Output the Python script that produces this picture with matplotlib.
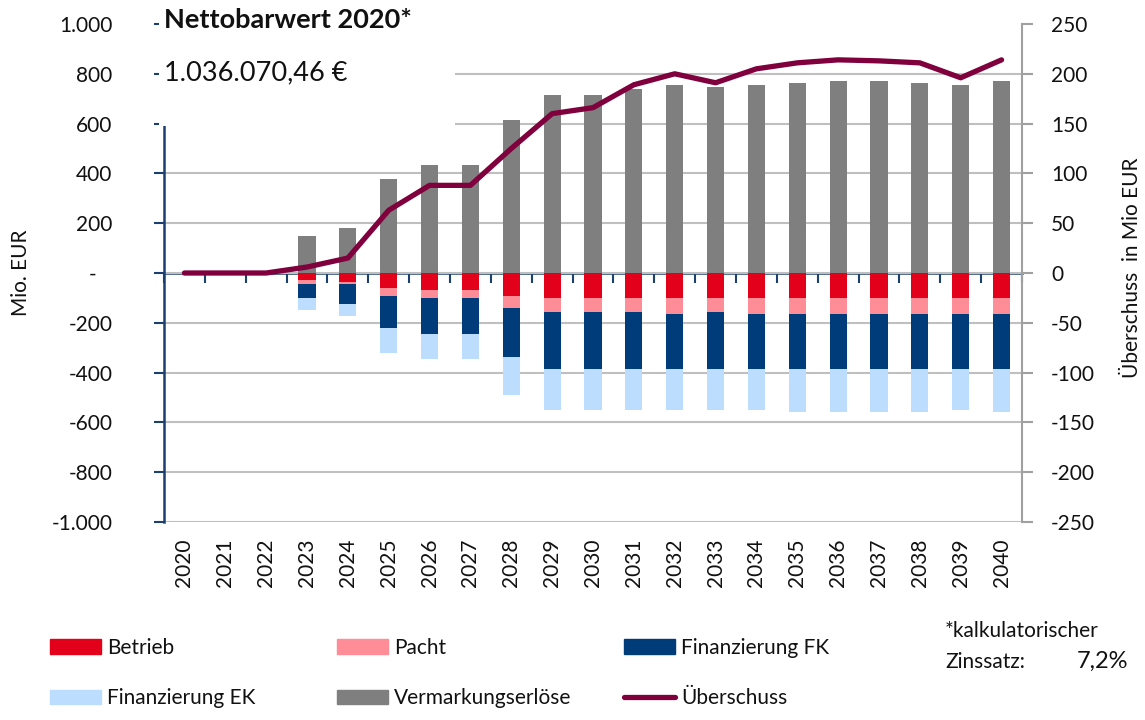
import matplotlib
matplotlib.use("Agg")
import matplotlib.pyplot as plt
import numpy as np
from matplotlib.patches import Rectangle, Patch
from matplotlib.lines import Line2D

plt.rcParams['font.family'] = ['Lato', 'DejaVu Sans']

years = [str(y) for y in range(2020, 2041)]
vermarktung = [0, 0, 0, 147, 179, 376, 432, 432, 613, 716, 716, 740, 756, 748, 756, 764, 772, 772, 764, 756, 772]
betrieb = [0, 0, 0, -27, -35, -59, -67, -67, -91, -99, -100, -100, -100, -100, -100, -100, -100, -100, -100, -100, -100]
pacht = [0, 0, 0, -17, -9, -33, -33, -33, -49, -56, -55, -55, -63, -55, -63, -63, -63, -63, -63, -63, -63]
fin_fk = [0, 0, 0, -55, -79, -127, -143, -143, -197, -229, -229, -229, -221, -229, -221, -221, -221, -221, -221, -221, -221]
fin_ek = [0, 0, 0, -48, -48, -102, -101, -101, -151, -167, -167, -167, -167, -167, -167, -175, -175, -175, -175, -167, -175]
ueberschuss = [0, 0, 0, 6, 15, 63, 88, 88, 125, 160, 166, 189, 200, 191, 205, 211, 214, 213, 211, 196, 214]

left_ticks = [-1000, -800, -600, -400, -200, 0, 200, 400, 600, 800, 1000]
left_labels = ['-1.000', '-800', '-600', '-400', '-200', '-   ', '200', '400', '600', '800', '1.000']
right_ticks = [-250, -200, -150, -100, -50, 0, 50, 100, 150, 200, 250]

C_BETRIEB = '#E3001B'
C_PACHT = '#FF8D98'
C_FK = '#003B7A'
C_EK = '#BDDDFF'
C_VERM = '#7F7F7F'
C_LINE = '#80003E'
C_AXIS = '#1B3F6E'
C_GRID = '#BFBFBF'

W, H = 1145, 720
fig = plt.figure(figsize=(W / 100, H / 100), dpi=100)
ax = fig.add_axes([164 / W, 1 - 522 / H, (1022 - 164) / W, (522 - 24) / H])

x = np.arange(len(years))
bw = 0.42
ax.bar(x, vermarktung, bw, color=C_VERM, zorder=2)
b1 = np.array(betrieb)
b2 = b1 + np.array(pacht)
b3 = b2 + np.array(fin_fk)
ax.bar(x, betrieb, bw, color=C_BETRIEB, zorder=2)
ax.bar(x, pacht, bw, bottom=b1, color=C_PACHT, zorder=2)
ax.bar(x, fin_fk, bw, bottom=b2, color=C_FK, zorder=2)
ax.bar(x, fin_ek, bw, bottom=b3, color=C_EK, zorder=2)

ax.set_xlim(-0.5, len(years) - 0.5)
ax.set_ylim(-1000, 1000)
ax.set_yticks(left_ticks)
ax.set_yticklabels(left_labels)
for yv in left_ticks[:-1]:
    ax.axhline(yv, color=C_GRID, lw=1.5, zorder=1)
ax.tick_params(axis='y', direction='out', length=7, width=1.5, color=C_AXIS,
               labelsize=15, pad=30, labelcolor='#111111')
ax.set_xticks(x)
ax.set_xticklabels(years, rotation=90)
ax.tick_params(axis='x', length=0, labelsize=15, pad=12, labelcolor='#111111')
for s in ['top', 'right', 'bottom']:
    ax.spines[s].set_visible(False)
ax.spines['left'].set_color(C_AXIS)
ax.spines['left'].set_linewidth(1.8)
ax.set_ylabel('Mio. EUR', fontsize=15, color='#111111')
ax.yaxis.set_label_coords(-0.155, 0.5)

# zero category axis with boundary ticks (pointing down)
sec = ax.secondary_xaxis(0.5)
sec.set_alignment('bottom')
sec.set_xticks(np.arange(-0.5, len(years), 1.0))
sec.set_xticklabels([])
sec.tick_params(axis='x', direction='out', length=7.5, width=1.5, color=C_AXIS)
sec.spines['top'].set_visible(False)
sec.spines['bottom'].set_visible(True)
sec.spines['bottom'].set_color(C_AXIS)
sec.spines['bottom'].set_linewidth(1.8)

# right axis
ax2 = ax.twinx()
ax2.plot(x, ueberschuss, color=C_LINE, lw=3.8, solid_capstyle='round', solid_joinstyle='round', zorder=5)
ax2.set_ylim(-250, 250)
ax2.set_yticks(right_ticks)
ax2.set_yticklabels([str(v) for v in right_ticks])
ax2.tick_params(axis='y', direction='out', length=8, width=1.5, color='#A0A0A0',
                labelsize=15, pad=13, labelcolor='#111111')
for s in ['top', 'left', 'bottom']:
    ax2.spines[s].set_visible(False)
ax2.spines['right'].set_color('#A0A0A0')
ax2.spines['right'].set_linewidth(1.5)
ax2.set_ylabel('Überschuss  in Mio EUR', fontsize=15, color='#111111')
ax2.yaxis.set_label_coords(1.1165, 0.51)

# white box with title
fig.patches.append(Rectangle((159 / W, 1 - 126 / H), (455 - 159) / W, 126 / H,
                             transform=fig.transFigure, facecolor='white', edgecolor='none', zorder=3))
fig.text(164 / W, 1 - 28 / H, 'Nettobarwert 2020*', fontsize=19.5, fontweight='bold',
         va='baseline', ha='left', color='#111111', zorder=4)
fig.text(164 / W, 1 - 80 / H, '1.036.070,46 €', fontsize=19.5, va='baseline', ha='left',
         color='#111111', zorder=4)

# legends
def mk_leg(handles, labels, x0):
    lg = fig.legend(handles, labels, loc='center left', bbox_to_anchor=(x0 / W, 1 - 673 / H),
                    frameon=False, fontsize=15, handlelength=2.45, handleheight=0.7,
                    handletextpad=0.3, borderpad=0, borderaxespad=0, labelspacing=1.45)
    for t in lg.get_texts():
        t.set_color('#111111')
    return lg

mk_leg([Patch(color=C_BETRIEB), Patch(color=C_EK)], ['Betrieb', 'Finanzierung EK'], 50)
mk_leg([Patch(color=C_PACHT), Patch(color=C_VERM)], ['Pacht', 'Vermarkungserlöse'], 337)
mk_leg([Patch(color=C_FK), Line2D([0], [0], color=C_LINE, lw=3.8, solid_capstyle='round')],
       ['Finanzierung FK', 'Überschuss'], 624)

# footnote
fig.text(945 / W, 1 - 637 / H, '*kalkulatorischer', fontsize=15, ha='left', va='baseline', color='#111111')
fig.text(945 / W, 1 - 668 / H, 'Zinssatz:', fontsize=15, ha='left', va='baseline', color='#111111')
fig.text(1128 / W, 1 - 668 / H, '7,2%', fontsize=17, ha='right', va='baseline', color='#111111')

fig.savefig('out.png', dpi=100)
